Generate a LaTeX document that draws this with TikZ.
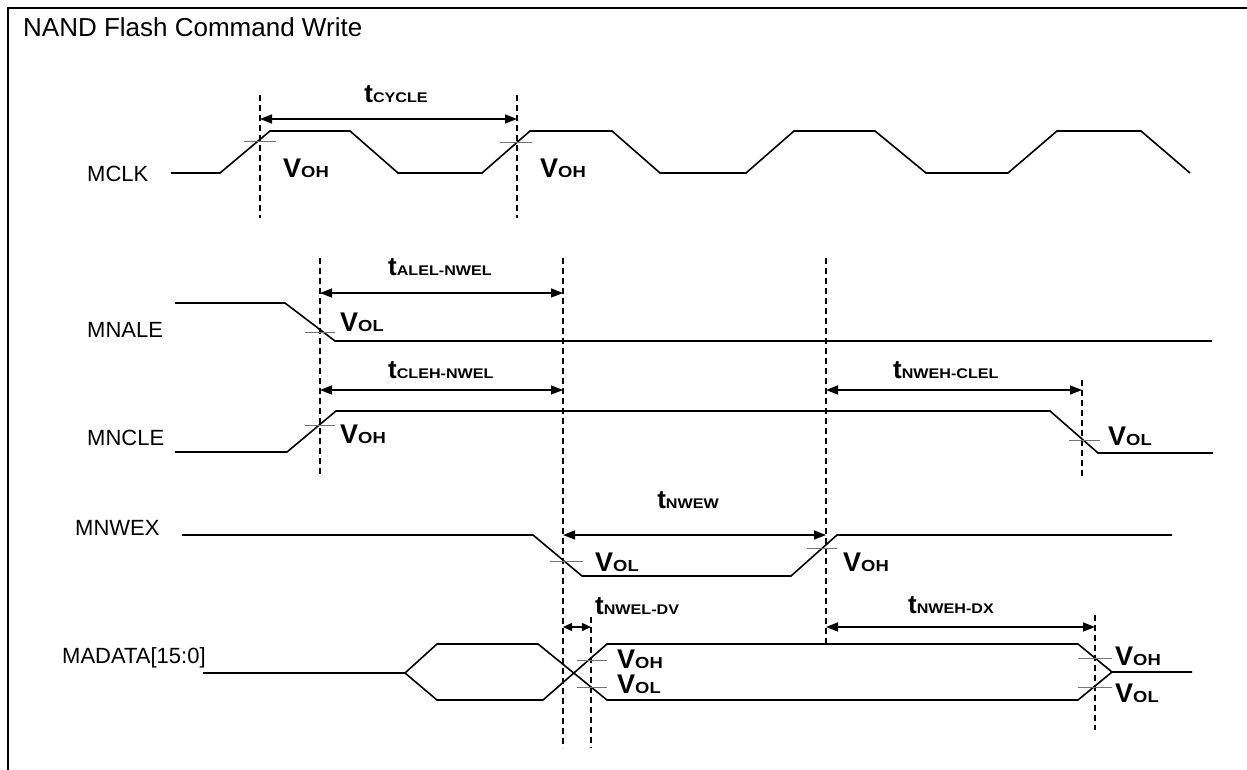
\documentclass[tikz,border=0pt]{standalone}
\usepackage{fontspec}
\usepackage{graphicx}
\setmainfont{Liberation Sans}
\usetikzlibrary{arrows.meta}
\newcommand\tlabel[1]{{\fontsize{26}{26}\selectfont\bfseries t}\scalebox{1.15}[1]{\fontsize{14}{14}\selectfont\bfseries #1}}
\newcommand\vlabel[1]{{\fontsize{27}{27}\selectfont\bfseries V}\scalebox{1.15}[1]{\fontsize{16}{16}\selectfont\bfseries #1}}
\begin{document}
\begin{tikzpicture}[x=1pt,y=-1pt,
  wave/.style={line width=1.6pt, line join=miter},
  guide/.style={line width=1.4pt, dash pattern=on 6pt off 4pt},
  tickmark/.style={line width=0.9pt, black!55},
  dim/.style={line width=1.5pt, {Triangle[length=12pt,width=9pt]}-{Triangle[length=12pt,width=9pt]}},
  sig/.style={anchor=base west, inner sep=0pt, font=\fontsize{22}{22}\selectfont},
  lab/.style={anchor=base west, inner sep=0pt}]
\useasboundingbox (0,0) rectangle (1247,770);
% frame
\draw[line width=2.5pt] (8,775) -- (8,8) -- (1252,8);
\node[anchor=base west, inner sep=0pt, font=\fontsize{26}{26}\selectfont] (title) at (23,37) {NAND Flash Command Write};

% signal names
\node[sig] (mclk) at (87,182) {MCLK};
\node[sig] (mnale) at (87,337) {MNALE};
\node[sig] (mncle) at (87,445) {MNCLE};
\node[sig] (mnwex) at (75,535) {MNWEX};
\node[sig] (madata) at (62,663) {MADATA[15:0]};

% guide lines
\coordinate (g1t) at (260,95);  \coordinate (g1b) at (260,218);
\coordinate (g2t) at (517,95);  \coordinate (g2b) at (517,218);
\coordinate (g3t) at (320,258); \coordinate (g3b) at (320,476);
\coordinate (g4t) at (563,258); \coordinate (g4b) at (563,748);
\coordinate (g5t) at (826,258); \coordinate (g5b) at (826,646);
\coordinate (g6t) at (1082,380);\coordinate (g6b) at (1082,478);
\coordinate (g7t) at (591,617); \coordinate (g7b) at (591,748);
\coordinate (g8t) at (1095,615);\coordinate (g8b) at (1095,730);
\foreach \g in {1,...,8} \draw[guide] (g\g t) -- (g\g b);

% waveforms
\draw[wave] (171,173) -- (220,173) -- (270,131) -- (350,131) -- (398,173) -- (482,173) -- (530,131) -- (612,131) -- (660,173) -- (746,173) -- (794,131) -- (875,131) -- (926,173) -- (1008,173) -- (1057,131) -- (1141,131) -- (1190,173);
\draw[wave] (175,303) -- (285,303) -- (335,341) -- (1212,341);
\draw[wave] (175,452) -- (287,452) -- (336,411) -- (1050,411) -- (1098,453) -- (1213,453);
\draw[wave] (182,535) -- (533,535) -- (582,576) -- (791,576) -- (837,535) -- (1172,535);
\draw[wave] (203,673) -- (405,673) -- (437,644) -- (538,644) -- (607,700) -- (1078,700) -- (1112,672) -- (1192,672);
\draw[wave] (405,673) -- (437,700) -- (543,700) -- (607,644) -- (1078,644) -- (1112,672);

% threshold ticks
\draw[tickmark] (244,141) -- (276,141);
\draw[tickmark] (500,142) -- (532,142);
\draw[tickmark] (305,332) -- (335,332);
\draw[tickmark] (305,425) -- (335,425);
\draw[tickmark] (1069,440) -- (1100,440);
\draw[tickmark] (550,561) -- (583,561);
\draw[tickmark] (807,548) -- (837,548);
\draw[tickmark] (577,660) -- (607,660);
\draw[tickmark] (577,687) -- (607,687);
\draw[tickmark] (1078,658) -- (1112,658);
\draw[tickmark] (1078,687) -- (1112,687);

% dimension arrows
\coordinate (a1l) at (260,119); \coordinate (a1r) at (517,119);
\coordinate (a2l) at (320,293); \coordinate (a2r) at (563,293);
\coordinate (a3l) at (320,390); \coordinate (a3r) at (563,390);
\coordinate (a4l) at (826,390); \coordinate (a4r) at (1082,390);
\coordinate (a5l) at (563,535); \coordinate (a5r) at (826,535);
\coordinate (a6l) at (563,627); \coordinate (a6r) at (591,627);
\coordinate (a7l) at (826,627); \coordinate (a7r) at (1095,627);
\draw[dim] (a1l) -- (a1r);
\draw[dim] (a2l) -- (a2r);
\draw[dim] (a3l) -- (a3r);
\draw[dim] (a4l) -- (a4r);
\draw[dim] (a5l) -- (a5r);
\draw[dim, {Triangle[length=9pt,width=8pt]}-{Triangle[length=9pt,width=8pt]}] (a6l) -- (a6r);
\draw[dim] (a7l) -- (a7r);

% timing labels
\node[anchor=base, inner sep=0pt] (tcyc) at (396,103) {\tlabel{CYCLE}};
\node[lab] (talel) at (388,275) {\tlabel{ALEL-NWEL}};
\node[lab] (tcleh) at (388,378) {\tlabel{CLEH-NWEL}};
\node[lab] (tnweh) at (893,378) {\tlabel{NWEH-CLEL}};
\node[anchor=base, inner sep=0pt] (tnwew) at (688,508) {\tlabel{NWEW}};
\node[lab] (tnwel) at (595,614) {\tlabel{NWEL-DV}};
\node[lab] (tnwdx) at (908,613) {\tlabel{NWEH-DX}};

% level labels
\node[lab] (v1) at (283,178) {\vlabel{OH}};
\node[lab] (v2) at (540,178) {\vlabel{OH}};
\node[lab] (v3) at (340,331) {\vlabel{OL}};
\node[lab] (v4) at (340,443) {\vlabel{OH}};
\node[lab] (v5) at (1108,445) {\vlabel{OL}};
\node[lab] (v6) at (595,571) {\vlabel{OL}};
\node[lab] (v7) at (843,571) {\vlabel{OH}};
\node[lab] (v8) at (617,668) {\vlabel{OH}};
\node[lab] (v9) at (617,693) {\vlabel{OL}};
\node[lab] (v10) at (1115,665) {\vlabel{OH}};
\node[lab] (v11) at (1115,702) {\vlabel{OL}};
\end{tikzpicture}
\end{document}
